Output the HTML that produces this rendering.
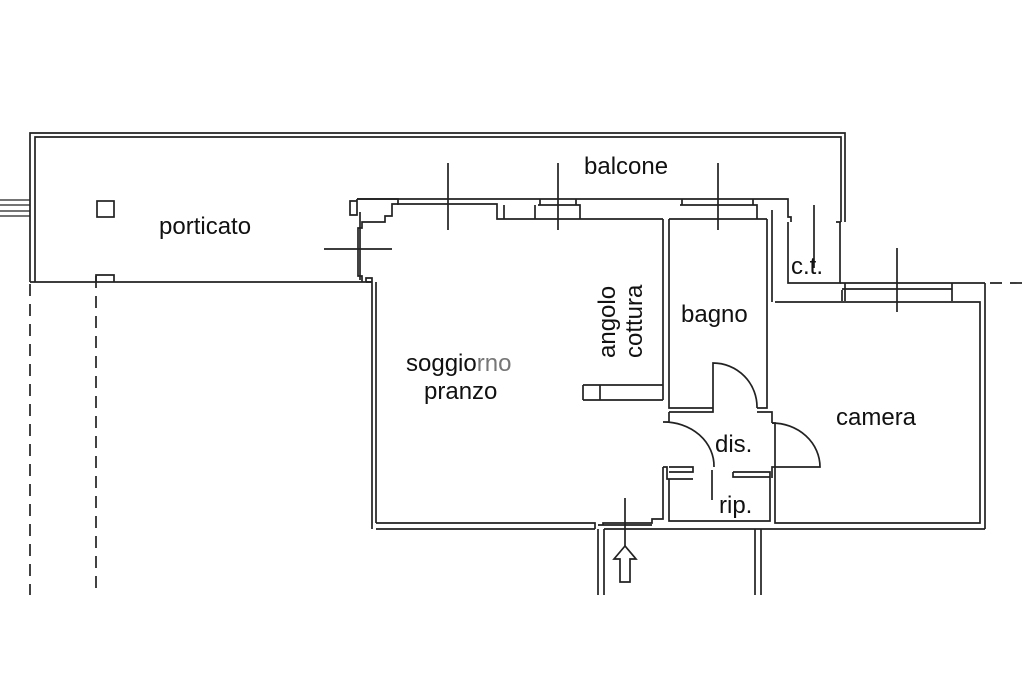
<!DOCTYPE html>
<html><head><meta charset="utf-8"><style>
body{margin:0;background:#fff;width:1024px;height:682px;overflow:hidden}
text{font-family:"Liberation Sans",sans-serif;font-size:24px;fill:#111}
</style></head><body>
<svg width="1024" height="682" viewBox="0 0 1024 682" fill="none" stroke="#222" stroke-width="1.7" style="position:absolute;left:0;top:0">
<path d="M30 282V133H845V222"/>
<path d="M35 282V137H841V222"/>
<path d="M0 200H30M0 205H30M0 216H30M0 211H30" stroke-width="1.2"/>
<path d="M30 282H372"/>
<path d="M30 284V595M96 276V595" stroke-dasharray="12 8"/>
<rect x="97" y="201" width="17" height="16"/>
<path d="M96 282V275H114V282"/>
<path d="M357 199V215H350V201H357M357 199H398V204H397"/>
<path d="M362 282V276H358V228H362V222H385V216H392V204H398"/>
<path d="M366 282V278H372V529M366 282H372M376 282V523"/>
<path d="M324 249H392M360 212V280"/>
<path d="M357 199H788V217H791V222"/>
<path d="M398 204H497V219H663M504 219V205"/>
<path d="M448 163V230M558 163V230M718 163V230"/>
<path d="M538 205H580V219M535 205V219M540 199V205M576 199V205"/>
<path d="M680 205H757V219M682 199V205M753 199V205"/>
<path d="M669 219H767"/>
<path d="M814 205V268"/>
<path d="M663 219V400M669 219V408H713M767 219V408H757M772 210V302"/>
<path d="M583 385H663M583 400H663M583 385V400M600 385V400"/>
<path d="M788 222V283H840V222M836 222H841"/>
<path d="M840 283H985M985 283V529" />
<path d="M990 283H1024" stroke-dasharray="12 8"/>
<path d="M845 283V301M952 283V301M842 289H952M842 301V290"/>
<path d="M897 248V312"/>
<path d="M775 302H980V523H775V423H772"/>
<path d="M669 412H713V410M757 412H772V423"/>
<path d="M713 410V363A44 44 0 0 1 757 408"/>
<path d="M772 423A48 44 0 0 1 820 467H772V478"/>
<path d="M663 422H669V412M663 422A50 44 0 0 1 714 467"/>
<path d="M663 467H667V479H693M669 467H693V472H669M712 470V500"/>
<path d="M733 472H770V478M733 472V477H770"/>
<path d="M669 479V521H770V478M663 467V519H652V523H603V525M376 523H595V529M595 529H376"/>
<path d="M598 525H652M604 529H985"/>
<path d="M598 529V595M604 529V595M755 529V595M761 529V595"/>
<path d="M625 498V546"/>
<path d="M625 546L614 559H620V582H630V559H636Z"/>
</svg>
<svg width="1024" height="682" style="position:absolute;left:0;top:0">
<text x="159" y="234">porticato</text>
<text x="584" y="174">balcone</text>
<text x="406" y="371">soggio<tspan fill="#777">rno</tspan></text>
<text x="424" y="399">pranzo</text>
<text transform="translate(615,358) rotate(-90)">angolo</text>
<text transform="translate(642,358) rotate(-90)">cottura</text>
<text x="681" y="322">bagno</text>
<text x="836" y="425">camera</text>
<text x="715" y="452">dis.</text>
<text x="719" y="513">rip.</text>
<text x="791" y="274">c.t.</text>
</svg>
</body></html>
